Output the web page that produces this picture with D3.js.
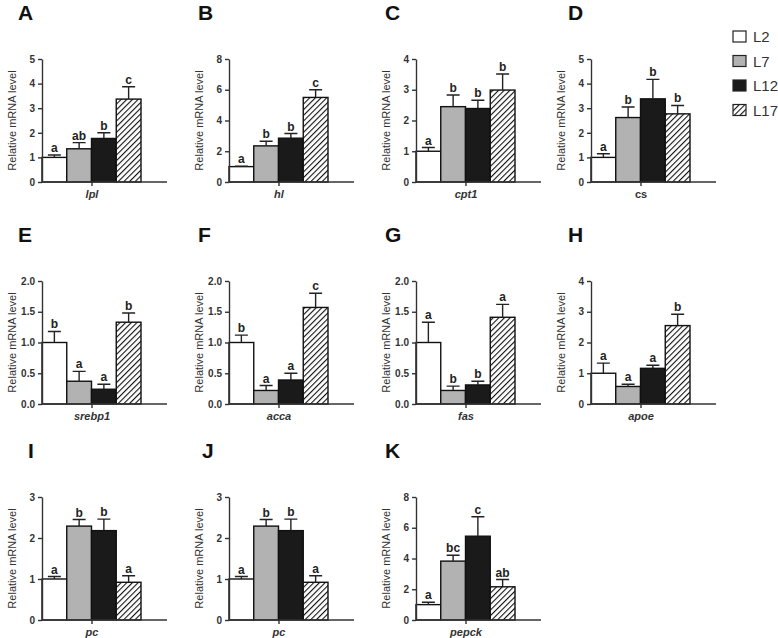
<!DOCTYPE html>
<html>
<head>
<meta charset="utf-8">
<script src="https://cdn.jsdelivr.net/npm/d3@7"></script>
<style>
  body { margin: 0; background: #fff; }
  svg { font-family: "Liberation Sans", Arial, sans-serif; }
</style>
</head>
<body>
<div id="chart"></div>
<script>
// Data: one entry per panel (A..K)

const groups = ['L2', 'L7', 'L12', 'L17'];
const panelLetters = ['A', 'B', 'C', 'D', 'E', 'F', 'G', 'H', 'I', 'J', 'K'];
const genes = ['lpl', 'hl', 'cpt1', 'cs', 'srebp1', 'acca', 'fas', 'apoe', 'pc', 'pc', 'pepck'];
const yMax = [5, 8, 4, 5, 2, 2, 2, 4, 3, 3, 8];
const yStep = [1, 2, 1, 1, 0.5, 0.5, 0.5, 1, 1, 1, 2];

const means = [
    [1.0, 1.35, 1.77, 3.37],
    [1.0, 2.35, 2.85, 5.5],
    [1.0, 2.45, 2.39, 2.99],
    [1.0, 2.62, 3.38, 2.77],
    [1.0, 0.37, 0.24, 1.33],
    [1.0, 0.22, 0.39, 1.57],
    [1.0, 0.22, 0.31, 1.41],
    [1.0, 0.57, 1.16, 2.55],
    [1.0, 2.29, 2.18, 0.92],
    [1.0, 2.29, 2.18, 0.92],
    [1.0, 3.83, 5.45, 2.16]
];

const errors = [
    [0.1, 0.25, 0.23, 0.5],
    [0.03, 0.3, 0.3, 0.5],
    [0.12, 0.38, 0.27, 0.52],
    [0.15, 0.43, 0.79, 0.34],
    [0.18, 0.16, 0.08, 0.15],
    [0.12, 0.08, 0.11, 0.23],
    [0.33, 0.07, 0.06, 0.21],
    [0.33, 0.07, 0.1, 0.37],
    [0.06, 0.16, 0.28, 0.16],
    [0.06, 0.16, 0.28, 0.16],
    [0.15, 0.38, 1.27, 0.47]
];

const sigLetters = [
    ['a', 'ab', 'b', 'c'],
    ['a', 'b', 'b', 'c'],
    ['a', 'b', 'b', 'b'],
    ['a', 'b', 'b', 'b'],
    ['b', 'a', 'a', 'b'],
    ['b', 'a', 'a', 'c'],
    ['a', 'b', 'b', 'a'],
    ['a', 'a', 'a', 'b'],
    ['a', 'b', 'b', 'a'],
    ['a', 'b', 'b', 'a'],
    ['a', 'bc', 'c', 'ab']
];

// Layout of the panel grid

const width = 778;
const height = 638;
const colX = [42, 229, 416, 591];
const rowTop = [59, 281, 497];
const plotH = 123;
const barsW = 99;
const axisW = 125;
const letterX = [[18, 198, 385, 568], [18, 198, 385, 568], [28, 202, 385]];
const fills = { L2: '#ffffff', L7: '#b2b2b2', L12: '#1a1a1a', L17: 'url(#hatch)' };

const svg = d3.select('#chart')
.append('svg')
.attr('width', width)
.attr('height', height)

// diagonal hatch for L17
const pattern = svg.append('defs')
.append('pattern')
.attr('id', 'hatch')
.attr('patternUnits', 'userSpaceOnUse')
.attr('width', 4)
.attr('height', 4)
.attr('patternTransform', 'rotate(45)')

pattern.append('rect').attr('width', 4).attr('height', 4).attr('fill', '#fff')
pattern.append('line')
.attr('x1', 0).attr('y1', 0).attr('x2', 0).attr('y2', 4)
.attr('stroke', '#111').attr('stroke-width', 2.2)

const xScale = d3.scaleBand()
.domain(groups)
.range([0, barsW])

panelLetters.forEach((letter, i) => {
    const row = Math.floor(i / 4);
    const col = i % 4;

    const g = svg.append('g')
    .attr('transform', 'translate(' + colX[col] + ',' + rowTop[row] + ')')

    const yScale = d3.scaleLinear()
    .domain([0, yMax[i]])
    .range([plotH, 0])

    // panel letter
    svg.append('text')
    .attr('x', letterX[row][col])
    .attr('y', rowTop[row] - 39)
    .attr('font-size', 21)
    .attr('font-weight', 'bold')
    .attr('fill', '#111')
    .text(letter)

    // y label
    g.append('text')
    .attr('transform', 'translate(-26,' + (plotH / 2) + ') rotate(-90)')
    .attr('text-anchor', 'middle')
    .attr('font-size', 11)
    .attr('fill', '#333')
    .text('Relative mRNA level')

    const data = groups.map((grp, j) => ({
        group: grp,
        value: means[i][j],
        err: errors[i][j],
        sig: sigLetters[i][j]
    }));

    // bars
    g.selectAll('rect.bar')
    .data(data)
    .enter()
    .append('rect')
    .attr('class', 'bar')
    .attr('x', (d) => xScale(d.group))
    .attr('y', (d) => yScale(d.value))
    .attr('width', xScale.bandwidth())
    .attr('height', (d) => plotH - yScale(d.value))
    .attr('fill', (d) => fills[d.group])
    .attr('stroke', '#111')
    .attr('stroke-width', 1.4)

    // upper error bars
    const capW = 13;
    g.selectAll('path.err')
    .data(data)
    .enter()
    .append('path')
    .attr('class', 'err')
    .attr('d', (d) => {
        const cx = xScale(d.group) + xScale.bandwidth() / 2;
        const top = yScale(d.value + d.err);
        return 'M' + cx + ',' + yScale(d.value) + 'V' + top +
            'M' + (cx - capW / 2) + ',' + top + 'H' + (cx + capW / 2);
    })
    .attr('stroke', '#222')
    .attr('stroke-width', 1.4)
    .attr('fill', 'none')

    // significance letters
    g.selectAll('text.sig')
    .data(data)
    .enter()
    .append('text')
    .attr('class', 'sig')
    .attr('x', (d) => xScale(d.group) + xScale.bandwidth() / 2)
    .attr('y', (d) => yScale(d.value + d.err) - 3)
    .attr('text-anchor', 'middle')
    .attr('font-size', 12)
    .attr('font-weight', 'bold')
    .attr('fill', '#222')
    .text((d) => d.sig)

    // axes
    const yAxis = d3.axisLeft(yScale)
    .tickValues(d3.range(0, yMax[i] + yStep[i] / 2, yStep[i]))
    .tickSize(4)
    .tickSizeOuter(0)
    .tickFormat(yStep[i] < 1 ? d3.format('.1f') : d3.format('d'))

    const yG = g.append('g').call(yAxis)
    yG.selectAll('path, line').attr('stroke', '#333').attr('stroke-width', 1.4)
    yG.selectAll('text')
    .attr('font-size', 10)
    .attr('font-weight', 'bold')
    .attr('fill', '#333')
    .attr('font-family', '"Liberation Sans", Arial, sans-serif')

    const xAxisScale = d3.scalePoint()
    .domain([genes[i]])
    .range([0, barsW])
    .padding(0.5)

    const xG = g.append('g')
    .attr('transform', 'translate(0,' + plotH + ')')
    .call(d3.axisBottom(xAxisScale).tickSize(4).tickSizeOuter(0))

    xG.select('.domain').attr('d', 'M0,0H' + axisW)
    xG.selectAll('path, line').attr('stroke', '#333').attr('stroke-width', 1.4)
    xG.selectAll('text')
    .attr('y', 8)
    .attr('font-size', 11)
    .attr('font-weight', 'bold')
    .attr('font-style', genes[i] === 'cs' ? 'normal' : 'italic')
    .attr('fill', '#333')
    .attr('font-family', '"Liberation Sans", Arial, sans-serif')
});

// legend

const legend = svg.append('g')
.attr('transform', 'translate(733,31)')

const legendRows = legend.selectAll('g')
.data(groups)
.enter()
.append('g')
.attr('transform', (d, i) => 'translate(0,' + (i * 24.5) + ')')

legendRows.append('rect')
.attr('width', 13)
.attr('height', 11)
.attr('fill', (d) => fills[d])
.attr('stroke', '#222')
.attr('stroke-width', 1.2)

legendRows.append('text')
.attr('x', 20)
.attr('y', 11)
.attr('font-size', 15)
.attr('fill', '#333')
.text((d) => d)
</script>
</body>
</html>
